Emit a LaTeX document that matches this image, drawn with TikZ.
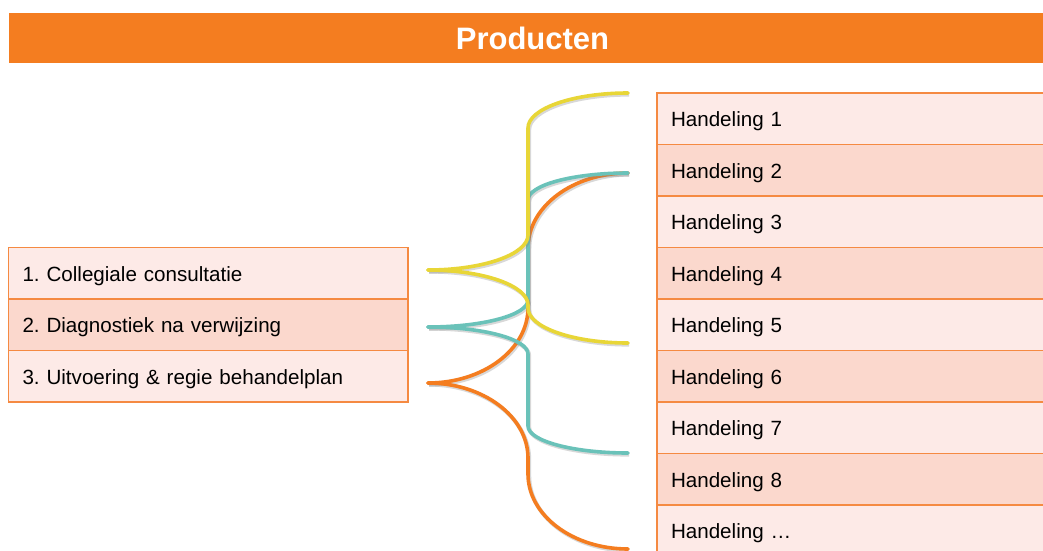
\documentclass[tikz,border=0pt]{standalone}
\usepackage{fontspec}
\setmainfont{Liberation Sans}
\frenchspacing
\definecolor{hdr}{RGB}{244,125,32}
\definecolor{tbl}{RGB}{245,138,66}
\definecolor{rowlite}{RGB}{253,234,231}
\definecolor{rowdark}{RGB}{251,216,205}
\definecolor{bYellow}{RGB}{232,214,55}
\definecolor{bTeal}{RGB}{106,194,185}
\definecolor{bOrange}{RGB}{244,125,32}
\begin{document}
\begin{tikzpicture}[x=1pt,y=-1pt,
  rowbox/.style={draw=tbl, line width=1.3pt, outer sep=0pt, minimum height=51.5pt,
    inner xsep=14pt, inner ysep=0pt, text height=18pt, text depth=2pt,
    align=left, anchor=north west, font=\fontsize{20.6}{24}\selectfont},
  leftrow/.style={rowbox, text width=371.5pt},
  rightrow/.style={rowbox, text width=392pt},
  lite/.style={fill=rowlite}, dark/.style={fill=rowdark},
  brace/.style={line width=3.6pt, line cap=round,
    preaction={draw=gray, draw opacity=0.3, line width=4pt,
      transform canvas={xshift=1.2pt,yshift=-1.6pt}}}
]
\useasboundingbox (0,0) rectangle (1043,550);
\clip (0,0) rectangle (1043,550);
\fill[white] (0,0) rectangle (1043,550);
% header
\fill[hdr] (8.5,13) rectangle (1043,62.5);
\node[text=white, font=\bfseries\fontsize{31}{36}\selectfont] (title) at (532.5,38.5) {Producten};
% left table
\node[leftrow, lite] (L1) at (8.5,247.5) {1. Collegiale consultatie};
\node[leftrow, dark] (L2) at (8.5,299) {2. Diagnostiek na verwijzing};
\node[leftrow, lite] (L3) at (8.5,350.5) {3. Uitvoering \& regie behandelplan};
% right table
\node[rightrow, lite] (R1) at (657,93) {Handeling 1};
\node[rightrow, dark] (R2) at (657,144.5) {Handeling 2};
\node[rightrow, lite] (R3) at (657,196) {Handeling 3};
\node[rightrow, dark] (R4) at (657,247.5) {Handeling 4};
\node[rightrow, lite] (R5) at (657,299) {Handeling 5};
\node[rightrow, dark] (R6) at (657,350.5) {Handeling 6};
\node[rightrow, lite] (R7) at (657,402) {Handeling 7};
\node[rightrow, dark] (R8) at (657,453.5) {Handeling 8};
\node[rightrow, lite] (R9) at (657,505) {Handeling …};
% brace tips and ends
\coordinate (oTip) at (428,383);
\coordinate (oTop) at (628,173);
\coordinate (oBot) at (628,549);
\coordinate (tTip) at (428,327);
\coordinate (tTop) at (628,173);
\coordinate (tBot) at (628,453);
\coordinate (yTip) at (428,270);
\coordinate (yTop) at (628,93);
\coordinate (yBot) at (628,343);
% orange brace
\draw[brace, bOrange] (oTip) .. controls (483.2,383) and (528,349.4) .. (528,308)
  -- (528,248) .. controls (528,206.6) and (572.8,173) .. (oTop);
\draw[brace, bOrange] (oTip) .. controls (483.2,383) and (528,416.6) .. (528,458)
  -- (528,474) .. controls (528,515.4) and (572.8,549) .. (oBot);
% teal brace
\draw[brace, bTeal] (tTip) .. controls (483.2,327) and (528,314.9) .. (528,300)
  -- (528,200) .. controls (528,185.1) and (572.8,173) .. (tTop);
\draw[brace, bTeal] (tTip) .. controls (483.2,327) and (528,339.1) .. (528,354)
  -- (528,426) .. controls (528,440.9) and (572.8,453) .. (tBot);
% yellow brace
\draw[brace, bYellow] (yTip) .. controls (483.2,270) and (528,254.3) .. (528,235)
  -- (528,128) .. controls (528,108.7) and (572.8,93) .. (yTop);
\draw[brace, bYellow] (yTip) .. controls (483.2,270) and (528,285.7) .. (528,305)
  -- (528,308) .. controls (528,327.3) and (572.8,343) .. (yBot);
\end{tikzpicture}
\end{document}
